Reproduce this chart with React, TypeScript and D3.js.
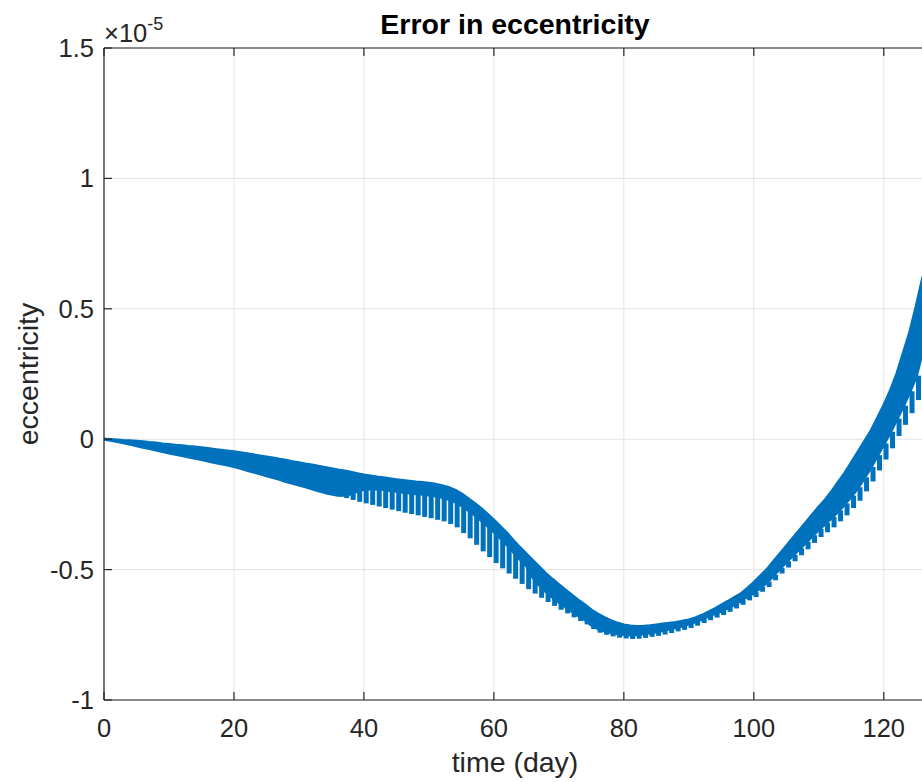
import React from "react";
import * as d3 from "d3";

// axis ticks
const xTicks = [0, 20, 40, 60, 80, 100, 120];
const yTicks = [-1, -0.5, 0, 0.5, 1, 1.5];
const yTickLabels = ["-1", "-0.5", "0", "0.5", "1", "1.5"];

// eccentricity error, one sample per day (units of 1e-5)
// top of the oscillating band
const bandTop = [
  0, -0.001, -0.003, -0.005, -0.006, -0.008, -0.01, -0.013, -0.015, -0.018,
  -0.02, -0.023, -0.025, -0.028, -0.03, -0.033, -0.036, -0.039, -0.042, -0.045,
  -0.048, -0.052, -0.056, -0.06, -0.064, -0.068, -0.072, -0.077, -0.081, -0.086,
  -0.09, -0.095, -0.099, -0.104, -0.108, -0.113, -0.118, -0.122, -0.127, -0.132,
  -0.137, -0.141, -0.145, -0.148, -0.152, -0.155, -0.158, -0.161, -0.164, -0.166,
  -0.169, -0.173, -0.178, -0.185, -0.195, -0.209, -0.227, -0.245, -0.265, -0.287,
  -0.31, -0.335, -0.36, -0.388, -0.415, -0.44, -0.465, -0.49, -0.515, -0.537,
  -0.558, -0.578, -0.598, -0.617, -0.635, -0.655, -0.67, -0.684, -0.696, -0.705,
  -0.712, -0.716, -0.718, -0.717, -0.715, -0.712, -0.709, -0.706, -0.703, -0.698,
  -0.693, -0.685, -0.675, -0.663, -0.65, -0.636, -0.622, -0.607, -0.593, -0.572,
  -0.55, -0.525, -0.5, -0.47, -0.44, -0.41, -0.38, -0.35, -0.32, -0.29,
  -0.26, -0.232, -0.2, -0.165, -0.13, -0.09, -0.05, -0.01, 0.03, 0.08,
  0.13, 0.185, 0.25, 0.33, 0.41, 0.51, 0.62,
];

// bottom of the solid part of the band
const bandBottom = [
  0, -0.004, -0.009, -0.014, -0.019, -0.025, -0.031, -0.036, -0.042, -0.047,
  -0.053, -0.058, -0.063, -0.068, -0.073, -0.078, -0.084, -0.089, -0.094, -0.099,
  -0.105, -0.112, -0.119, -0.126, -0.133, -0.14, -0.147, -0.154, -0.162, -0.169,
  -0.176, -0.183, -0.19, -0.198, -0.205, -0.21, -0.215, -0.215, -0.21, -0.2,
  -0.192, -0.19, -0.191, -0.193, -0.197, -0.2, -0.203, -0.206, -0.209, -0.211,
  -0.214, -0.218, -0.223, -0.23, -0.24, -0.254, -0.272, -0.29, -0.31, -0.332,
  -0.355, -0.38, -0.405, -0.433, -0.46, -0.485, -0.53, -0.56, -0.585, -0.605,
  -0.625, -0.643, -0.66, -0.677, -0.692, -0.713, -0.727, -0.735, -0.741, -0.746,
  -0.749, -0.751, -0.75, -0.747, -0.743, -0.739, -0.734, -0.728, -0.722, -0.716,
  -0.709, -0.7, -0.69, -0.679, -0.669, -0.659, -0.647, -0.634, -0.62, -0.603,
  -0.59, -0.57, -0.55, -0.524, -0.497, -0.472, -0.447, -0.422, -0.397, -0.372,
  -0.347, -0.325, -0.302, -0.277, -0.25, -0.22, -0.188, -0.15, -0.11, -0.065,
  -0.02, 0.025, 0.075, 0.125, 0.18, 0.24, 0.34,
];

// lowest point of each daily swing (tips of the teeth)
const spikeTip = [
  0, -0.004, -0.009, -0.014, -0.019, -0.025, -0.031, -0.036, -0.042, -0.047,
  -0.053, -0.058, -0.063, -0.068, -0.073, -0.078, -0.084, -0.089, -0.094, -0.099,
  -0.105, -0.112, -0.119, -0.126, -0.133, -0.14, -0.147, -0.154, -0.162, -0.169,
  -0.176, -0.183, -0.19, -0.198, -0.205, -0.212, -0.219, -0.226, -0.233, -0.24,
  -0.246, -0.252, -0.258, -0.264, -0.27, -0.276, -0.282, -0.287, -0.292, -0.298,
  -0.303, -0.309, -0.315, -0.325, -0.338, -0.36, -0.38, -0.405, -0.43, -0.452,
  -0.475, -0.495, -0.515, -0.535, -0.555, -0.575, -0.592, -0.608, -0.624, -0.639,
  -0.654, -0.668, -0.683, -0.697, -0.71, -0.728, -0.742, -0.75, -0.756, -0.761,
  -0.764, -0.766, -0.765, -0.762, -0.758, -0.754, -0.749, -0.743, -0.737, -0.731,
  -0.724, -0.715, -0.705, -0.694, -0.684, -0.674, -0.662, -0.649, -0.635, -0.618,
  -0.605, -0.585, -0.567, -0.541, -0.515, -0.492, -0.468, -0.445, -0.422, -0.398,
  -0.375, -0.357, -0.338, -0.315, -0.292, -0.264, -0.236, -0.2, -0.162, -0.12,
  -0.078, -0.035, 0.012, 0.055, 0.1, 0.15, 0.24,
];

const BLUE = "#0072BD";
const AXIS = "#262626";
const GRID = "#e3e3e3";
const FONT = "Liberation Sans, Arial, Helvetica, sans-serif";

export default function App() {
  const width = 922,
    height = 782;
  const plot = { left: 104, right: 926, top: 48, bottom: 700 };

  const x = d3.scaleLinear().domain([0, 126.5]).range([plot.left, plot.right]);
  const y = d3.scaleLinear().domain([-1, 1.5]).range([plot.bottom, plot.top]);

  const rows = bandTop.map((v, i) => ({ day: i, top: v, bottom: bandBottom[i], tip: spikeTip[i] }));

  const band = d3
    .area<any>()
    .x((d) => x(d.day))
    .y0((d) => y(d.bottom))
    .y1((d) => y(d.top))(rows);

  // each daily swing drawn as a tooth hanging under the solid band
  const teeth = rows.filter((d) => d.tip < d.bottom - 0.003);
  const tickLen = 8;

  return (
    <svg
      width={width}
      height={height}
      style={{ position: "absolute", left: 0, top: 0, background: "#fff" }}
      fontFamily={FONT}
    >
      <defs>
        <clipPath id="plotClip">
          <rect x={plot.left} y={plot.top} width={plot.right - plot.left} height={plot.bottom - plot.top} />
        </clipPath>
      </defs>
      <rect x={0} y={0} width={width} height={height} fill="#fff" />

      {/* grid */}
      <g stroke={GRID} strokeWidth={1}>
        {xTicks.map((t) => (
          <line key={"gx" + t} x1={x(t)} x2={x(t)} y1={plot.top} y2={plot.bottom} />
        ))}
        {yTicks.map((t) => (
          <line key={"gy" + t} x1={plot.left} x2={plot.right} y1={y(t)} y2={y(t)} />
        ))}
      </g>

      {/* data */}
      <g clipPath="url(#plotClip)">
        <path d={band || ""} fill={BLUE} stroke={BLUE} strokeWidth={3} strokeLinejoin="round" />
        {teeth.map((d) => (
          <line
            key={"t" + d.day}
            x1={x(d.day + 0.35)}
            x2={x(d.day + 0.35)}
            y1={y(d.bottom) - 1}
            y2={y(d.tip)}
            stroke={BLUE}
            strokeWidth={5}
          />
        ))}
      </g>

      {/* axes box and ticks */}
      <g stroke={AXIS} strokeWidth={1.2} fill="none">
        <line x1={plot.left} x2={plot.right} y1={plot.bottom} y2={plot.bottom} />
        <line x1={plot.left} x2={plot.right} y1={plot.top} y2={plot.top} />
        <line x1={plot.left} x2={plot.left} y1={plot.top} y2={plot.bottom} />
        {xTicks.map((t) => (
          <g key={"tx" + t}>
            <line x1={x(t)} x2={x(t)} y1={plot.bottom} y2={plot.bottom - tickLen} />
            <line x1={x(t)} x2={x(t)} y1={plot.top} y2={plot.top + tickLen} />
          </g>
        ))}
        {yTicks.map((t) => (
          <line key={"ty" + t} x1={plot.left} x2={plot.left + tickLen} y1={y(t)} y2={y(t)} />
        ))}
      </g>

      {/* tick labels */}
      <g fill={AXIS} fontSize={25.5}>
        {xTicks.map((t) => (
          <text key={"lx" + t} x={x(t)} y={737} textAnchor="middle">
            {t}
          </text>
        ))}
        {yTicks.map((t, i) => (
          <text key={"ly" + t} x={94} y={y(t) + 9} textAnchor="end">
            {yTickLabels[i]}
          </text>
        ))}
      </g>

      {/* exponent */}
      <text x={104} y={42} fill={AXIS} fontSize={25.5}>
        ×10
        <tspan dy={-12} fontSize={18}>
          -5
        </tspan>
      </text>

      {/* title and labels */}
      <text x={515} y={34} textAnchor="middle" fontWeight="bold" fontSize={28.5} fill="#000">
        Error in eccentricity
      </text>
      <text x={515} y={772} textAnchor="middle" fontSize={28.5} fill={AXIS}>
        time (day)
      </text>
      <text
        transform={`translate(38, ${(plot.top + plot.bottom) / 2}) rotate(-90)`}
        textAnchor="middle"
        fontSize={28.5}
        fill={AXIS}
      >
        eccentricity
      </text>
    </svg>
  );
}
